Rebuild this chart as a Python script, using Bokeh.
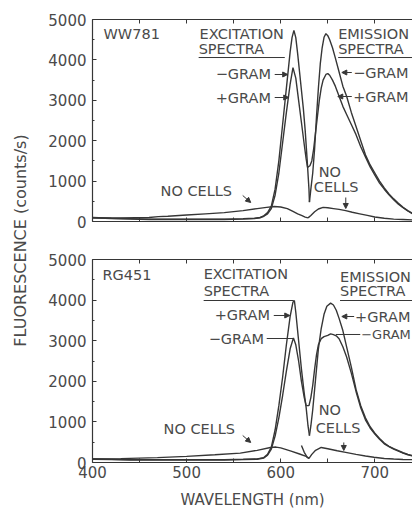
import math
from bokeh.plotting import figure
from bokeh.layouts import row, column
from bokeh.models import Range1d, LinearAxis, FixedTicker, Label, Arrow, NormalHead
from bokeh.embed import file_html
from bokeh.resources import INLINE

# ---------------- data ----------------
y_ticks = [0, 1000, 2000, 3000, 4000, 5000]
y_minor = [500, 1500, 2500, 3500, 4500]
x_ticks = [400, 500, 600, 700]
x_minor = [450, 550, 650, 750]

# Top panel: WW781
ww_exneg_wl = [400, 420, 440, 460, 480, 500, 520, 540, 560, 572, 578, 582, 586, 590, 594, 598, 602, 606, 610, 612, 614, 616, 618, 620, 622, 624, 626, 628, 630, 630.5]
ww_exneg = [100, 80, 70, 60, 60, 60, 60, 60, 70, 80, 100, 140, 220, 380, 800, 1500, 2400, 3300, 4200, 4550, 4730, 4550, 4150, 3700, 3250, 2800, 2250, 1550, 800, 480]
ww_expos_wl = [400, 420, 440, 460, 480, 500, 520, 540, 560, 572, 578, 582, 586, 590, 594, 598, 602, 606, 610, 613, 616, 619, 622, 625, 627, 628.5]
ww_expos = [90, 70, 60, 50, 50, 50, 50, 50, 60, 70, 90, 130, 190, 320, 650, 1200, 1950, 2700, 3400, 3810, 3550, 3000, 2450, 1900, 1550, 1340]
ww_emneg_wl = [630.5, 632, 634, 636, 638, 640, 642, 644, 646, 648, 650, 652, 655, 658, 662, 666, 670, 675, 680, 685, 690, 695, 700, 705, 710, 715, 720, 725, 730, 735, 740]
ww_emneg = [480, 800, 1200, 1800, 2600, 3300, 3900, 4300, 4560, 4650, 4600, 4500, 4300, 4050, 3700, 3350, 3100, 2700, 2350, 2000, 1650, 1400, 1200, 1000, 830, 680, 560, 450, 350, 270, 200]
ww_empos_wl = [628.5, 631, 633, 635, 637, 639, 641, 643, 645, 648, 650, 652, 655, 658, 662, 666, 670, 675, 680, 685, 690, 695, 700, 705, 710, 715, 720, 725, 730, 735, 740]
ww_empos = [1340, 1380, 1500, 1800, 2200, 2600, 3000, 3300, 3500, 3640, 3660, 3620, 3500, 3350, 3100, 2850, 2650, 2400, 2150, 1850, 1600, 1350, 1150, 950, 800, 660, 540, 430, 340, 260, 190]
ww_nc_ex_wl = [400, 430, 460, 470, 480, 500, 520, 540, 560, 575, 585, 593, 600, 607, 613, 618, 622, 626, 629]
ww_nc_ex = [90, 90, 100, 120, 130, 160, 190, 220, 270, 320, 350, 370, 360, 320, 250, 190, 150, 110, 90]
ww_nc_em_wl = [629, 632, 636, 640, 645, 650, 656, 662, 669, 676, 684, 692, 700, 710, 720, 730, 740]
ww_nc_em = [90, 150, 240, 310, 350, 340, 320, 300, 270, 230, 190, 150, 110, 80, 60, 50, 40]

# Bottom panel: RG451
rg_expos_wl = [400, 420, 440, 460, 480, 500, 520, 540, 560, 575, 582, 586, 590, 594, 598, 602, 606, 610, 613, 614.5, 616, 619, 622, 625, 627, 629, 630.5]
rg_expos = [90, 80, 70, 70, 70, 70, 70, 70, 80, 90, 120, 200, 380, 800, 1400, 2100, 2900, 3600, 3950, 3990, 3700, 3000, 2300, 1700, 1350, 900, 660]
rg_exneg_wl = [400, 420, 440, 460, 480, 500, 520, 540, 560, 575, 582, 586, 590, 594, 598, 602, 606, 610, 613.5, 616, 619, 622, 625, 627]
rg_exneg = [80, 70, 60, 60, 60, 60, 60, 60, 70, 80, 110, 180, 330, 650, 1100, 1650, 2250, 2800, 3070, 2900, 2500, 2000, 1600, 1400]
rg_empos_wl = [630.5, 632, 634, 636, 638, 640, 643, 646, 649, 653, 656, 659, 662, 666, 670, 675, 680, 685, 690, 695, 700, 705, 710, 715, 720, 725, 730, 735, 740]
rg_empos = [660, 900, 1300, 1800, 2300, 2800, 3300, 3650, 3850, 3925, 3880, 3750, 3550, 3250, 2850, 2350, 1800, 1400, 1100, 880, 720, 590, 480, 400, 340, 290, 240, 200, 170]
rg_emneg_wl = [627, 630, 632, 634, 636, 638, 640, 643, 646, 650, 653, 656, 659, 662, 666, 670, 675, 680, 685, 690, 695, 700, 705, 710, 715, 720, 725, 730, 735, 740]
rg_emneg = [1400, 1400, 1600, 1900, 2300, 2650, 2900, 3050, 3100, 3130, 3170, 3150, 3120, 3050, 2850, 2600, 2200, 1750, 1350, 1050, 850, 700, 570, 460, 390, 330, 280, 230, 190, 160]
rg_nc_ex_wl = [400, 430, 469, 500, 530, 557, 575, 589, 595, 600, 611, 620, 627, 630]
rg_nc_ex = [90, 95, 120, 150, 190, 230, 300, 370, 380, 360, 280, 210, 150, 100]
rg_nc_em_wl = [622, 625, 628, 630, 633, 637, 643, 650, 660, 669, 680, 690, 699, 710, 720, 730, 740]
rg_nc_em = [420, 250, 130, 100, 200, 300, 370, 340, 290, 250, 200, 160, 130, 100, 85, 75, 70]

# ---------------- style ----------------
FONT = "DejaVu Sans"
TXT = "#4a4a4a"
LINE = "#363636"
TICK_FS = "15px"
ANN_FS = "14.5px"
x_all = sorted(x_ticks + x_minor)


def style_axis(ax, minor_len=4):
    ax.axis_line_color = LINE
    ax.axis_line_width = 1.2
    ax.major_tick_line_color = LINE
    ax.minor_tick_line_color = LINE
    ax.major_tick_in = 4
    ax.major_tick_out = 0
    ax.minor_tick_in = minor_len
    ax.minor_tick_out = 0
    ax.major_label_text_font = FONT
    ax.major_label_text_color = TXT
    ax.major_label_text_font_size = TICK_FS


def make_panel(height, b_top, b_bottom, bottom_labels):
    p = figure(width=378, height=height, x_range=Range1d(400, 740), y_range=Range1d(0, 5000),
               toolbar_location=None, output_backend="svg", x_axis_type=None, y_axis_type=None,
               min_border_left=58, min_border_right=0, min_border_top=b_top, min_border_bottom=b_bottom)
    p.outline_line_color = None
    p.background_fill_color = "white"
    yax = LinearAxis(ticker=FixedTicker(ticks=y_ticks, minor_ticks=y_minor))
    style_axis(yax, 2)
    yax.major_label_standoff = 6
    p.add_layout(yax, "left")
    if bottom_labels:
        xb = LinearAxis(ticker=FixedTicker(ticks=x_ticks, minor_ticks=x_minor))
        style_axis(xb, 4)
        xb.major_label_standoff = 3
        xb.axis_label = "WAVELENGTH (nm)"
        xb.axis_label_text_font = FONT
        xb.axis_label_text_font_size = "15px"
        xb.axis_label_text_font_style = "normal"
        xb.axis_label_text_color = TXT
        xb.axis_label_standoff = 10
    else:
        xb = LinearAxis(ticker=FixedTicker(ticks=[], minor_ticks=x_all))
        style_axis(xb, 4)
    p.add_layout(xb, "below")
    xt = LinearAxis(ticker=FixedTicker(ticks=[], minor_ticks=x_all))
    style_axis(xt, 4)
    p.add_layout(xt, "above")
    return p


def curve(p, x, y):
    p.line(x, y, line_color=LINE, line_width=1.4)


def txt(p, x, y, s, size=ANN_FS):
    p.add_layout(Label(x=x, y=y, text=s, text_align="left", text_baseline="middle",
                       text_font=FONT, text_font_size=size, text_color=TXT))


def arrow(p, x0, y0, x1, y1, head=True):
    end = NormalHead(size=5, line_color=LINE, fill_color=LINE, line_width=1) if head else None
    p.add_layout(Arrow(end=end, x_start=x0, y_start=y0, x_end=x1, y_end=y1,
                       line_color=LINE, line_width=1))


# ---------------- top panel ----------------
top = make_panel(240, 19, 19, False)
for xs, ys in [(ww_exneg_wl, ww_exneg), (ww_expos_wl, ww_expos), (ww_emneg_wl, ww_emneg),
               (ww_empos_wl, ww_empos), (ww_nc_ex_wl, ww_nc_ex), (ww_nc_em_wl, ww_nc_em)]:
    curve(top, xs, ys)
txt(top, 411.7, 4629, "WW781")
txt(top, 513.8, 4653, "EXCITATION")
txt(top, 512.8, 4282, "SPECTRA")
arrow(top, 512.8, 4059, 604.3, 4059, head=False)
txt(top, 661.0, 4653, "EMISSION")
txt(top, 661.0, 4282, "SPECTRA")
arrow(top, 661.0, 4059, 740, 4059, head=False)
txt(top, 530.9, 3639, "\u2212GRAM")
arrow(top, 593.6, 3639, 607.4, 3639)
txt(top, 530.9, 3069, "+GRAM")
arrow(top, 593.6, 3069, 608.5, 3069)
txt(top, 677.0, 3688, "\u2212GRAM")
arrow(top, 675.5, 3688, 664.9, 3688)
txt(top, 677.0, 3094, "+GRAM")
arrow(top, 675.5, 3094, 660.6, 3094)
txt(top, 472.3, 767, "NO CELLS")
arrow(top, 559.6, 644, 568.1, 470)
txt(top, 640.4, 1213, "NO")
txt(top, 635.1, 842, "CELLS")
arrow(top, 669.1, 594, 669.1, 322)

# ---------------- bottom panel ----------------
bot = make_panel(275, 19, 53, True)
for xs, ys in [(rg_expos_wl, rg_expos), (rg_exneg_wl, rg_exneg), (rg_empos_wl, rg_empos),
               (rg_emneg_wl, rg_emneg), (rg_nc_ex_wl, rg_nc_ex), (rg_nc_em_wl, rg_nc_em)]:
    curve(bot, xs, ys)
txt(bot, 410.6, 4606, "RG451")
txt(bot, 518.1, 4655, "EXCITATION")
txt(bot, 518.1, 4236, "SPECTRA")
arrow(bot, 518.1, 3990, 613.8, 3990, head=False)
txt(bot, 663.0, 4581, "EMISSION")
txt(bot, 663.0, 4236, "SPECTRA")
arrow(bot, 663.0, 3990, 740, 3990, head=False)
txt(bot, 529.8, 3621, "+GRAM")
arrow(bot, 592.6, 3621, 609.6, 3621)
txt(bot, 523.4, 3054, "\u2212GRAM")
arrow(bot, 585.1, 3054, 613.8, 3054, head=False)
txt(bot, 679.0, 3596, "+GRAM")
arrow(bot, 678.0, 3596, 664.9, 3596)
txt(bot, 685.5, 3153, "\u2212GRAM", size="13px")
arrow(bot, 684.5, 3153, 658.5, 3153, head=False)
txt(bot, 475.5, 837, "NO CELLS")
arrow(bot, 559.6, 665, 568.1, 493)
txt(bot, 640.4, 1281, "NO")
txt(bot, 637.2, 862, "CELLS")
arrow(bot, 667, 493, 667, 296)

# ---------------- shared y label ----------------
lab = figure(width=34, height=515, x_range=Range1d(0, 1), y_range=Range1d(0, 1),
             toolbar_location=None, output_backend="svg", x_axis_type=None, y_axis_type=None,
             min_border=0)
lab.outline_line_color = None
lab.add_layout(Label(x=0.59, y=0.534, text="FLUORESCENCE (counts/s)", angle=math.pi / 2,
                     text_align="center", text_baseline="middle", text_font=FONT,
                     text_font_size="16px", text_color=TXT))

layout = row(lab, column(top, bot))
open("out.html", "w").write(file_html(layout, INLINE))
